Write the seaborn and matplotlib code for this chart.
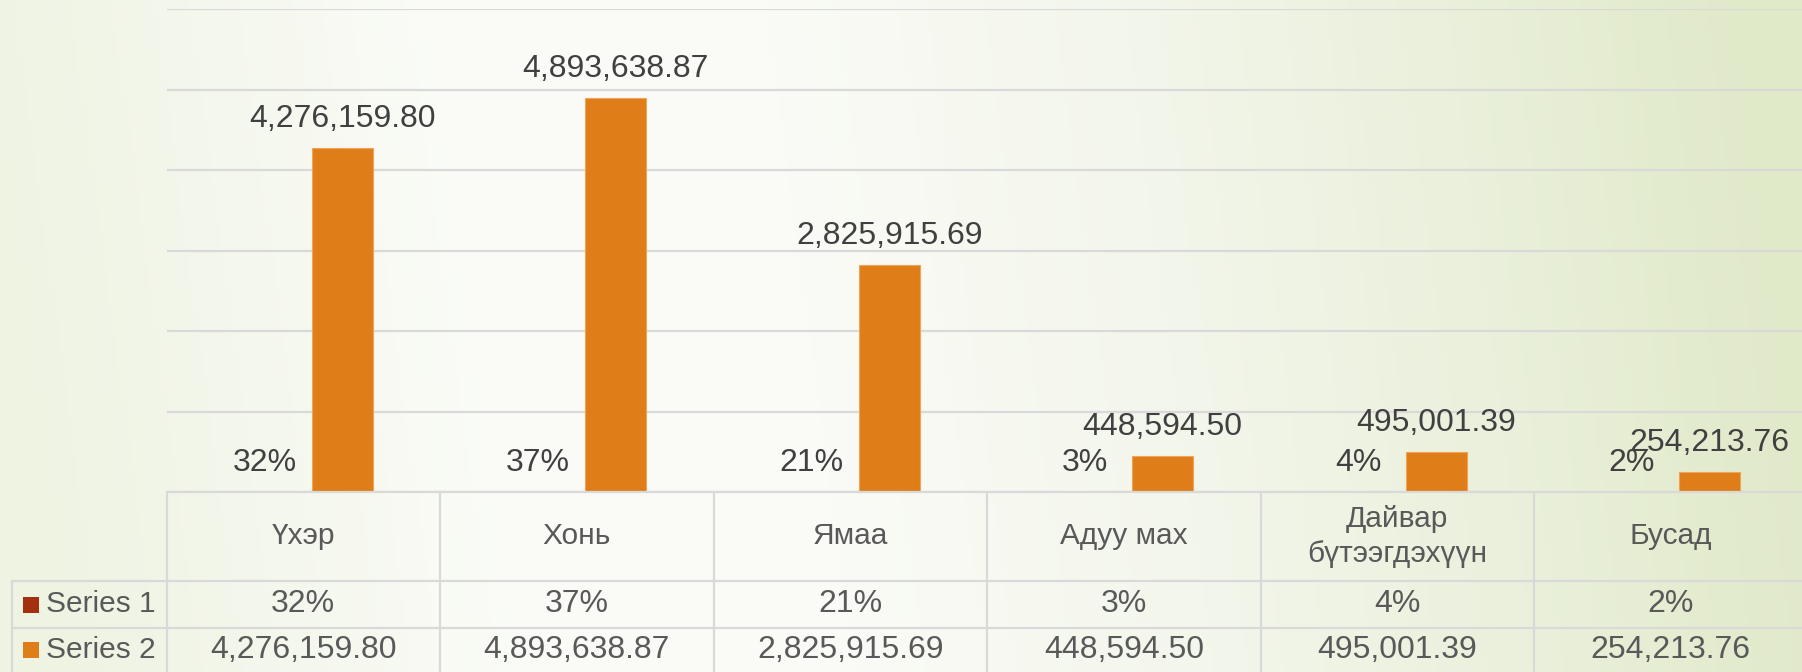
import numpy as np
import pandas as pd
import matplotlib
matplotlib.use("Agg")
import matplotlib.pyplot as plt
from matplotlib import font_manager as fm
from matplotlib.patches import Rectangle
from matplotlib.colors import LinearSegmentedColormap
import seaborn as sns

# ---- data ----
categories = ["Үхэр", "Хонь", "Ямаа", "Адуу мах", "Дайвар бүтээгдэхүүн", "Бусад"]
header_labels = ["Үхэр", "Хонь", "Ямаа", "Адуу мах", "Дайвар\nбүтээгдэхүүн", "Бусад"]
series_names = ["Series 1", "Series 2"]
series1 = [0.32, 0.37, 0.21, 0.03, 0.04, 0.02]
series2 = [4276159.80, 4893638.87, 2825915.69, 448594.50, 495001.39, 254213.76]

colors = {"Series 1": "#A5300F", "Series 2": "#DF7E18"}

sns.set_theme(style="white")
names = {f.name for f in fm.fontManager.ttflist}
if "Liberation Sans Narrow" in names:
    FAM, FSN, FST = ["Liberation Sans Narrow", "DejaVu Sans"], 26, 25
else:
    FAM, FSN, FST = ["Liberation Sans", "DejaVu Sans"], 23, 21.5
plt.rcParams["font.family"] = FAM

W, H = 1802, 672
fig = plt.figure(figsize=(W / 100, H / 100), dpi=100)

# background gradient
bg = fig.add_axes([0, 0, 1, 1], zorder=-10)
cmap = LinearSegmentedColormap.from_list(
    "bg", [(0.0, "#eef3e2"), (0.28, "#fbfcf8"), (0.45, "#fafbf6"),
           (0.65, "#f3f6eb"), (0.83, "#eaf0db"), (1.0, "#e0e9c8")])
xx, yy = np.meshgrid(np.linspace(0, 1, 400), np.linspace(0, 1, 150))
grad = np.clip(xx + 0.05 * (1 - yy) - 0.025, 0, 1)
bg.imshow(grad, cmap=cmap, aspect="auto", extent=[0, 1, 0, 1], vmin=0, vmax=1)
bg.set_axis_off()

# main axes
left_px, right_px, top_px, zero_px = 166.6, 1807.5, 9.2, 492.0
ax = fig.add_axes([left_px / W, 1 - zero_px / H, (right_px - left_px) / W, (zero_px - top_px) / H])
ax.set_facecolor("none")

df = pd.DataFrame({
    "cat": categories * 2,
    "series": [series_names[0]] * len(categories) + [series_names[1]] * len(categories),
    "value": series1 + series2,
})
sns.barplot(data=df, x="cat", y="value", hue="series", palette=colors, saturation=1,
            width=0.569, gap=0.216, errorbar=None, legend=False, ax=ax,
            edgecolor="#EFA35C", linewidth=0.8, zorder=3)

ax.set_xlim(-0.5, 5.5)
ax.set_ylim(0, 6_000_000)
ax.set_yticks(np.arange(0, 6_000_001, 1_000_000))
ax.yaxis.grid(True, color="#d9d9d9", linewidth=1.6, zorder=0)
ax.set_axisbelow(True)
ax.tick_params(left=False, bottom=False, labelleft=False, labelbottom=False)
ax.set_xlabel("")
ax.set_ylabel("")
for s in ax.spines.values():
    s.set_visible(False)

# data labels
lab_col = "#404040"
for ci, cont in enumerate(ax.containers):
    for j, bar in enumerate(cont):
        v = series1[j] if ci == 0 else series2[j]
        txt = f"{v:.0%}" if ci == 0 else f"{v:,.2f}"
        ax.annotate(txt, (bar.get_x() + bar.get_width() / 2, bar.get_height()),
                    xytext=(0, 29), textcoords="offset pixels", ha="center", va="center",
                    fontsize=FSN, color=lab_col, zorder=5)

# data table
tr = ax.get_xaxis_transform()
axh = zero_px - top_px
def yf(px):
    return (zero_px - px) / axh
colw = right_px - left_px
col_px = colw / 6
def xd(px):
    return -0.5 + (px - left_px) / col_px

line_kw = dict(color="#d9d9d9", linewidth=1.6, transform=tr, clip_on=False, zorder=4)
y_top, y_hdr, y_s1, y_bot = 0.0, yf(581), yf(628), yf(672)
x_left = xd(12)
ax.plot([-0.5, 5.5], [y_top, y_top], **line_kw)
ax.plot([x_left, 5.5], [y_hdr, y_hdr], **line_kw)
ax.plot([x_left, 5.5], [y_s1, y_s1], **line_kw)
for k in range(7):
    ax.plot([k - 0.5, k - 0.5], [y_top, y_bot], **line_kw)
ax.plot([x_left, x_left], [y_hdr, y_bot], **line_kw)

tab_col = "#595959"
y_hdr_c = yf((492 + 581) / 2)
y_s1_c = yf((581 + 628) / 2)
y_s2_c = yf((628 + 672) / 2)
for j, lab in enumerate(header_labels):
    ax.text(j, y_hdr_c, lab, transform=tr, ha="center", va="center", fontsize=FST,
            color=tab_col, linespacing=1.3, clip_on=False)
    ax.text(j, y_s1_c, f"{series1[j]:.0%}", transform=tr, ha="center", va="center",
            fontsize=FSN, color=tab_col, clip_on=False)
    ax.text(j, y_s2_c, f"{series2[j]:,.2f}", transform=tr, ha="center", va="center",
            fontsize=FSN, color=tab_col, clip_on=False)

sq_h = 16 / axh
for name, yc in zip(series_names, [y_s1_c, y_s2_c]):
    ax.add_patch(Rectangle((xd(23), yc - sq_h / 2), xd(39) - xd(23), sq_h,
                           transform=tr, facecolor=colors[name], edgecolor="none",
                           clip_on=False, zorder=5))
    ax.text(xd(46), yc, name, transform=tr, ha="left", va="center", fontsize=FST,
            color=tab_col, clip_on=False)

fig.savefig("out.png", dpi=100)
